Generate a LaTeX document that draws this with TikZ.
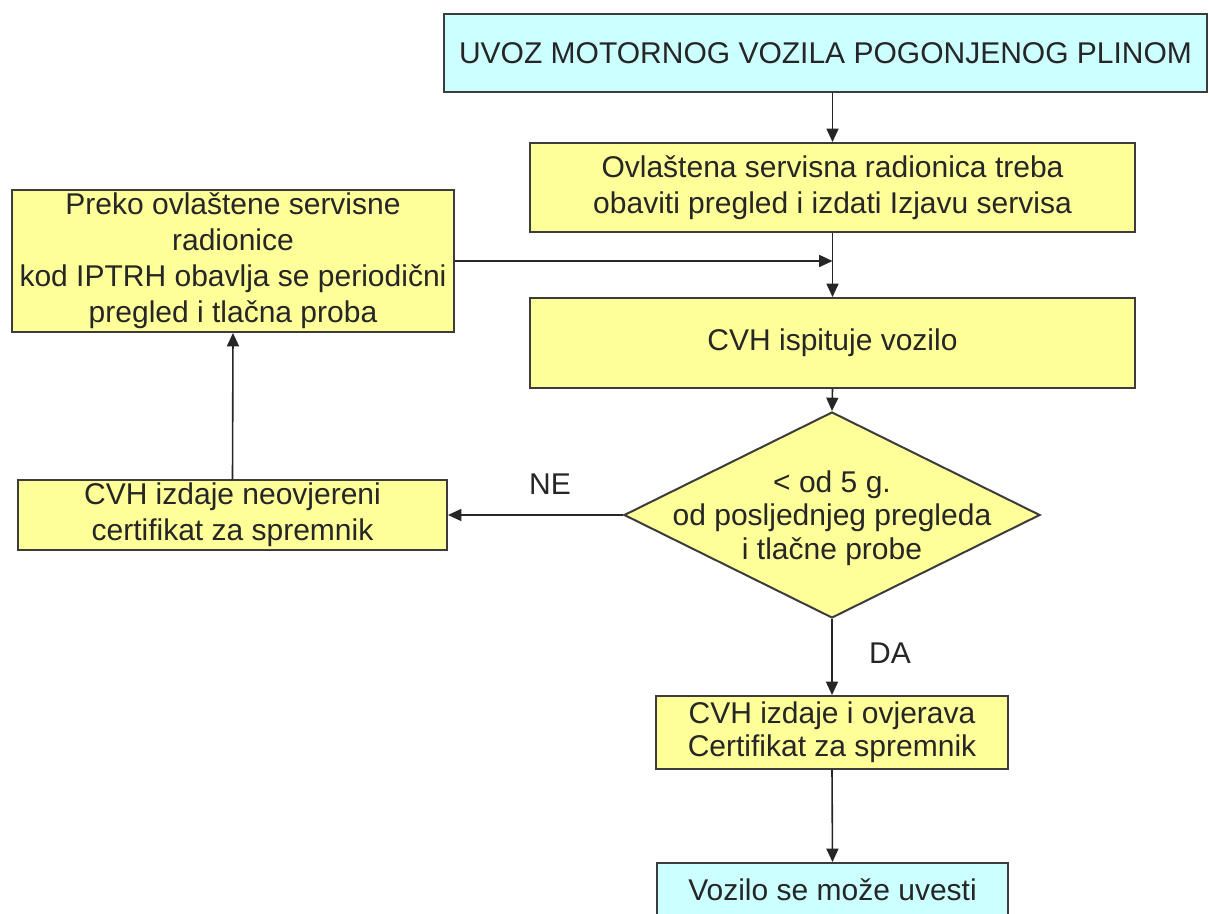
\documentclass[tikz,border=0pt]{standalone}
\usepackage{fontspec}
\setmainfont{Liberation Sans}
\usetikzlibrary{shapes.geometric,arrows.meta}
\definecolor{boxyellow}{RGB}{255,255,153}
\definecolor{boxcyan}{RGB}{204,255,255}
\definecolor{edgegray}{RGB}{60,60,60}
\tikzset{
  base/.style={draw=edgegray, line width=1.5pt, inner sep=0pt, align=center,
    font=\fontsize{22.5pt}{27pt}\selectfont, text=black!85},
  ybox/.style={base, rectangle, fill=boxyellow},
  cbox/.style={base, rectangle, fill=boxcyan},
  dbox/.style={base, diamond, fill=boxyellow},
  conn/.style={line width=1.2pt, draw=black!85, -{Triangle[length=10pt,width=9pt]}},
  lbl/.style={font=\fontsize{22.5pt}{27pt}\selectfont, text=black!85},
}
\begin{document}
\begin{tikzpicture}[x=0.75pt,y=-0.75pt]
\useasboundingbox (0,0) rectangle (1209,913);
\clip (0,0) rectangle (1209,913);
\fill[white] (0,0) rectangle (1209,913);

\node[cbox, minimum width={763*0.75pt}, minimum height={78*0.75pt}] (top) at (825.5,53)
  {UVOZ MOTORNOG VOZILA POGONJENOG PLINOM};
\node[ybox, minimum width={605*0.75pt}, minimum height={89*0.75pt}] (serv) at (832.5,187.5)
  {Ovlaštena servisna radionica treba\\obaviti pregled i izdati Izjavu servisa};
\node[ybox, minimum width={605*0.75pt}, minimum height={90*0.75pt}] (ispit) at (832.5,343)
  {CVH ispituje vozilo};
\node[ybox, minimum width={442*0.75pt}, minimum height={142*0.75pt}] (perio) at (233,261)
  {Preko ovlaštene servisne\\radionice\\kod IPTRH obavlja se periodični\\pregled i tlačna proba};
\node[dbox, minimum width={416*0.75pt}, minimum height={206*0.75pt}] (dia) at (832,515) {};
\node[lbl, align=center, font=\fontsize{22.5pt}{25pt}\selectfont] (diatext) at (832,518)
  {< od 5 g.\\od posljednjeg pregleda\\i tlačne probe};
\node[ybox, minimum width={429*0.75pt}, minimum height={70*0.75pt}] (neov) at (232.5,515)
  {CVH izdaje neovjereni\\certifikat za spremnik};
\node[ybox, minimum width={352*0.75pt}, minimum height={73*0.75pt}, font=\fontsize{22.5pt}{25pt}\selectfont] (ovj) at (832,732.5)
  {CVH izdaje i ovjerava\\Certifikat za spremnik};
\node[cbox, minimum width={351*0.75pt}, minimum height={54*0.75pt}] (uvoz) at (832.5,890)
  {Vozilo se može uvesti};

\coordinate (join) at (serv.south |- perio.east);

\draw[conn] (serv.north |- top.south) -- (serv.north);
\draw[conn] (serv.south) -- (ispit.north);
\draw[conn] (perio.east) -- (join);
\draw[conn] (ispit.south) -- (dia.north);
\draw[conn] (dia.west) -- (neov.east);
\draw[conn] (neov.north) -- (perio.south);
\draw[conn] (dia.south) -- (ovj.north);
\draw[conn] (ovj.south) -- (uvoz.north);

\node[lbl] (ne) at (550,484) {NE};
\node[lbl] (da) at (890,653) {DA};
\end{tikzpicture}
\end{document}
